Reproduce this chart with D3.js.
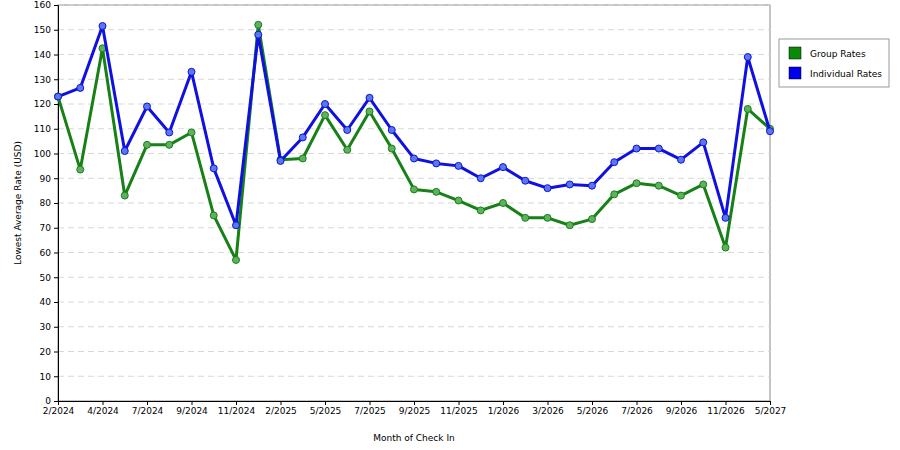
<!DOCTYPE html>
<html><head><meta charset="utf-8">
<script src="https://cdn.jsdelivr.net/npm/d3@7"></script>
<style>body{margin:0;background:#fff}text{font-family:"DejaVu Sans",sans-serif}</style>
</head><body><svg id="c" width="900" height="450"></svg>
<script>
const months=["2/2024","3/2024","4/2024","6/2024","7/2024","8/2024","9/2024","10/2024","11/2024","12/2024","2/2025","3/2025","5/2025","6/2025","7/2025","8/2025","9/2025","10/2025","11/2025","12/2025","1/2026","2/2026","3/2026","4/2026","5/2026","6/2026","7/2026","8/2026","9/2026","10/2026","11/2026","12/2026","5/2027"];
const groupRates=[123,93.5,142.5,83,103.5,103.5,108.5,75,57,152,97.5,98,115.5,101.5,117,102,85.5,84.5,81,77,80,74,74,71,73.5,83.5,88,87,83,87.5,62,118,110];
const individualRates=[123,126.5,151.5,101,119,108.5,133,94,71,148,97,106.5,120,109.5,122.5,109.5,98,96,95,90,94.5,89,86,87.5,87,96.5,102,102,97.5,104.5,74,139,109];
const yTicks=d3.range(0,161,10);
const svg=d3.select("#c");
const L=58,R=770,T=5,B=401;
const x=d3.scalePoint().domain(months).range([L,R]);
const y=d3.scaleLinear().domain([0,160]).range([B,T]);
svg.append("rect").attr("x",L).attr("y",T).attr("width",R-L).attr("height",B-T).attr("fill","#fff").attr("stroke","#888");
svg.append("g").selectAll("line").data(yTicks.slice(1)).join("line")
 .attr("x1",L).attr("x2",R).attr("y1",d=>y(d)).attr("y2",d=>y(d))
 .attr("stroke","#d8d8d8").attr("stroke-dasharray","6,4");
const ya=svg.append("g").attr("transform",`translate(${L},0)`).call(d3.axisLeft(y).tickValues(yTicks).tickSize(4));
const xa=svg.append("g").attr("transform",`translate(0,${B})`).call(d3.axisBottom(x).tickValues(months.filter((d,i)=>i%2==0)).tickSize(4));
[ya,xa].forEach(a=>{a.selectAll("text").attr("font-size",9).attr("fill","#000");a.selectAll("path,line").attr("stroke","#000");});
svg.append("text").attr("x",414).attr("y",441).attr("text-anchor","middle").attr("font-size",9).text("Month of Check In");
svg.append("text").attr("transform","translate(21,203) rotate(-90)").attr("text-anchor","middle").attr("font-size",9).text("Lowest Average Rate (USD)");
const line=d3.line().x((d,i)=>x(months[i])).y(d=>y(d));
function series(data,stroke,fill){
 svg.append("path").datum(data).attr("d",line).attr("fill","none").attr("stroke",stroke).attr("stroke-width",3).attr("stroke-linejoin","round");
 svg.append("g").selectAll("circle").data(data).join("circle").attr("cx",(d,i)=>x(months[i])).attr("cy",d=>y(d)).attr("r",3.5)
  .attr("fill",fill).attr("stroke",stroke).attr("stroke-width",1);
}
series(groupRates,"#178017","#5fb05f");
series(individualRates,"#1010e0","#5a78e8");
const lg=svg.append("g");
lg.append("rect").attr("x",779).attr("y",39).attr("width",110).attr("height",48).attr("fill","#fff").attr("stroke","#999");
[["Group Rates","#0a8a0a"],["Individual Rates","#0000ee"]].forEach((d,i)=>{
 lg.append("rect").attr("x",789).attr("y",47+i*20).attr("width",12).attr("height",12).attr("fill",d[1]).attr("stroke","#000").attr("stroke-width",0.5);
 lg.append("text").attr("x",810).attr("y",57+i*20).attr("font-size",9).text(d[0]);
});
</script></body></html>
